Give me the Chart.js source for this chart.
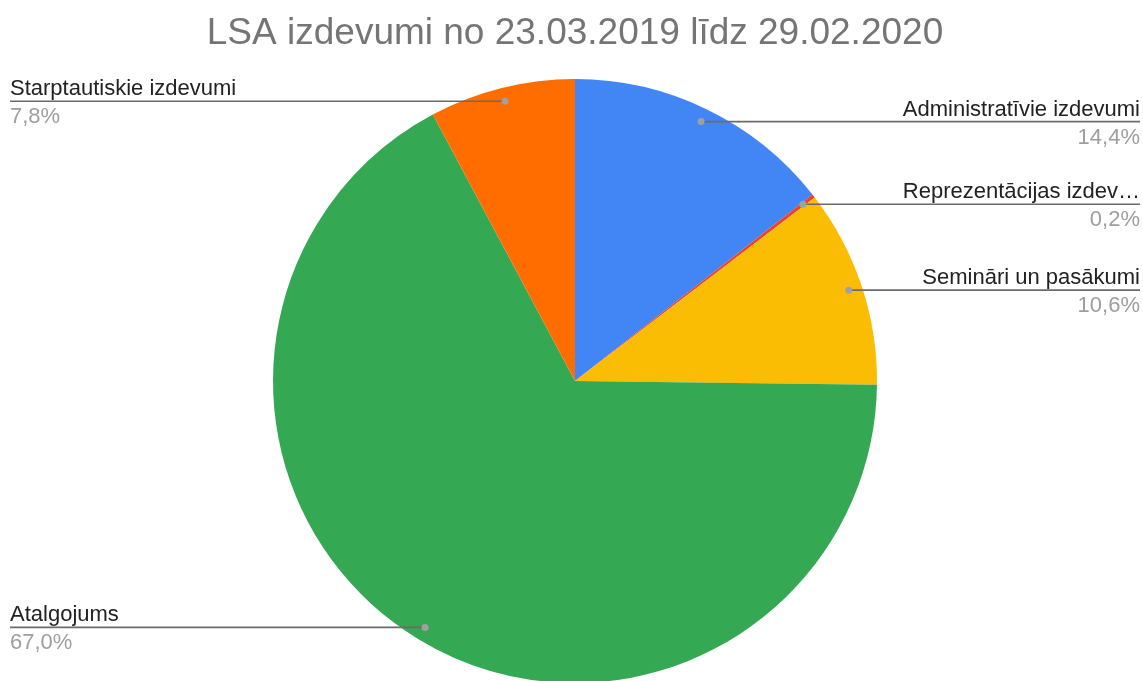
<!DOCTYPE html>
<html>
<head>
<meta charset="utf-8">
<script src="https://cdn.jsdelivr.net/npm/chart.js@4"></script>
<style>
html,body{margin:0;padding:0;background:#fff;overflow:hidden;}
#wrap{position:relative;width:1143px;height:720px;}
</style>
</head>
<body>
<div id="wrap"><canvas id="c" width="1143" height="720"></canvas></div>
<script>
const TITLE = 'LSA izdevumi no 23.03.2019 līdz 29.02.2020';
const categories = ['Administratīvie izdevumi', 'Reprezentācijas izdevumi', 'Semināri un pasākumi', 'Atalgojums', 'Starptautiskie izdevumi'];
const values = [14.4, 0.2, 10.6, 67.0, 7.8];
const percentLabels = ['14,4%', '0,2%', '10,6%', '67,0%', '7,8%'];
const colors = ['#4285F4', '#EA4335', '#FBBC04', '#34A853', '#FF6D01'];

const FONT = '"Liberation Sans", Arial, sans-serif';

function fitText(ctx, text, maxW) {
  if (ctx.measureText(text).width <= maxW) return text;
  let t = text;
  while (t.length > 1 && ctx.measureText(t + '…').width > maxW) t = t.slice(0, -1);
  return t.replace(/\s+$/, '') + '…';
}

const labelPlugin = {
  id: 'sheetLabels',
  afterDraw(chart) {
    const ctx = chart.ctx;
    ctx.save();
    ctx.font = '37px ' + FONT;
    ctx.fillStyle = '#757575';
    ctx.textAlign = 'center';
    ctx.textBaseline = 'alphabetic';
    ctx.fillText(TITLE, 575, 44);

    const meta = chart.getDatasetMeta(0);
    meta.data.forEach((arc, i) => {
      const mid = (arc.startAngle + arc.endAngle) / 2;
      const r = arc.outerRadius * 0.955;
      const px = arc.x + Math.cos(mid) * r;
      const py = arc.y + Math.sin(mid) * r;
      const right = Math.cos(mid) > 0;
      const edgeL = 10, edgeR = 1140;
      ctx.strokeStyle = '#6b6b6b';
      ctx.lineWidth = 1.6;
      ctx.beginPath();
      if (right) { ctx.moveTo(px, py); ctx.lineTo(edgeR, py); }
      else { ctx.moveTo(edgeL, py); ctx.lineTo(px, py); }
      ctx.stroke();
      ctx.fillStyle = '#a0a0a0';
      ctx.beginPath();
      ctx.arc(px, py, 3.5, 0, Math.PI * 2);
      ctx.fill();
      ctx.font = '22px ' + FONT;
      ctx.textAlign = right ? 'right' : 'left';
      const tx = right ? edgeR : edgeL;
      ctx.fillStyle = '#222222';
      ctx.fillText(fitText(ctx, categories[i], 243), tx, py - 6);
      ctx.fillStyle = '#9e9e9e';
      ctx.fillText(percentLabels[i], tx, py + 22);
    });
    ctx.restore();
  }
};

new Chart(document.getElementById('c'), {
  type: 'pie',
  data: {
    labels: categories,
    datasets: [{
      data: values,
      backgroundColor: colors,
      borderWidth: 0,
      hoverOffset: 0
    }]
  },
  options: {
    responsive: false,
    animation: false,
    layout: { padding: { top: 79, left: 273, right: 266, bottom: 37 } },
    plugins: {
      legend: { display: false },
      title: { display: false },
      tooltip: { enabled: false }
    },
    events: []
  },
  plugins: [labelPlugin]
});
</script>
</body>
</html>
